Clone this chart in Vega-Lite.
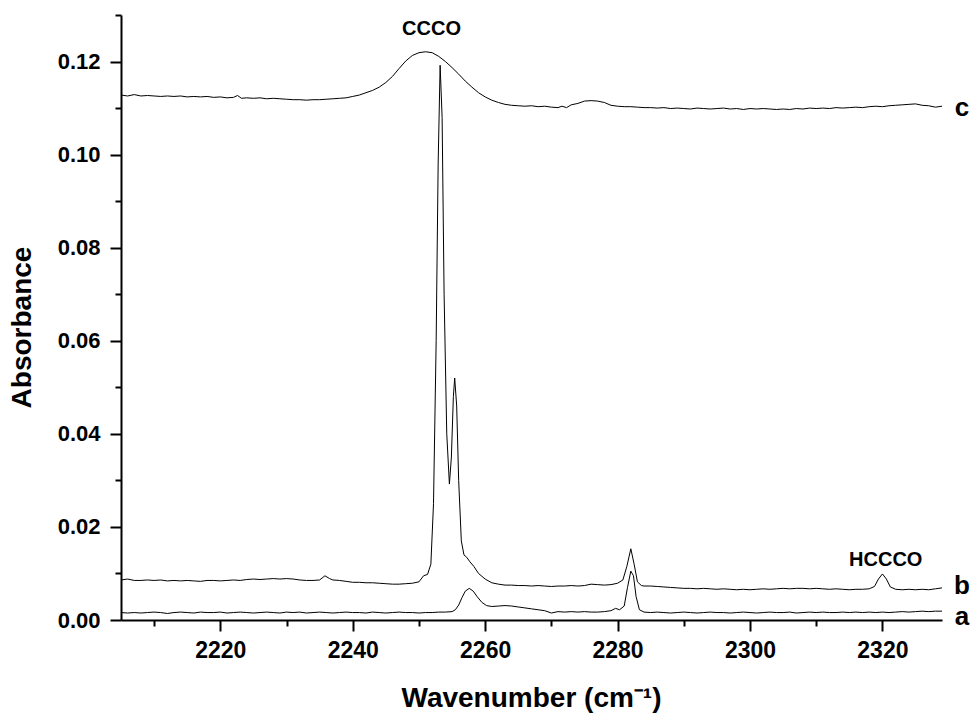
{
  "$schema": "https://vega.github.io/schema/vega-lite/v6.json",
  "width": 821,
  "height": 605,
  "autosize": {"type": "none"},
  "padding": {"left": 121, "top": 15, "right": 34, "bottom": 98},
  "background": "white",
  "config": {
    "view": {"stroke": null},
    "font": "Liberation Sans",
    "axis": {"grid": false, "domainColor": "black", "domainWidth": 2, "tickColor": "black", "tickWidth": 2, "labelColor": "black", "titleColor": "black", "labelFont": "Liberation Sans", "titleFont": "Liberation Sans", "labelFontWeight": "bold", "titleFontWeight": "bold", "labelOverlap": false, "labelFlush": false}
  },
  "datasets": {
    "spectra": [
      {"s":"a","x":2205,"y":0.0016},{"s":"a","x":2206,"y":0.0015},{"s":"a","x":2207,"y":0.0016},{"s":"a","x":2208,"y":0.0015},{"s":"a","x":2209,"y":0.0016},{"s":"a","x":2210,"y":0.0017},{"s":"a","x":2211,"y":0.0016},{"s":"a","x":2212,"y":0.0014},{"s":"a","x":2213,"y":0.0016},{"s":"a","x":2214,"y":0.0017},{"s":"a","x":2215,"y":0.0016},{"s":"a","x":2216,"y":0.0015},{"s":"a","x":2217,"y":0.0017},{"s":"a","x":2218,"y":0.0016},{"s":"a","x":2219,"y":0.0016},{"s":"a","x":2220,"y":0.0017},{"s":"a","x":2221,"y":0.0015},{"s":"a","x":2222,"y":0.0016},{"s":"a","x":2223,"y":0.0017},{"s":"a","x":2224,"y":0.0016},{"s":"a","x":2225,"y":0.0015},{"s":"a","x":2226,"y":0.0016},{"s":"a","x":2227,"y":0.0017},{"s":"a","x":2228,"y":0.0016},{"s":"a","x":2229,"y":0.0015},{"s":"a","x":2230,"y":0.0017},{"s":"a","x":2231,"y":0.0016},{"s":"a","x":2232,"y":0.0017},{"s":"a","x":2233,"y":0.0015},{"s":"a","x":2234,"y":0.0016},{"s":"a","x":2235,"y":0.0017},{"s":"a","x":2236,"y":0.0016},{"s":"a","x":2237,"y":0.0015},{"s":"a","x":2238,"y":0.0016},{"s":"a","x":2239,"y":0.0017},{"s":"a","x":2240,"y":0.0016},{"s":"a","x":2241,"y":0.0016},{"s":"a","x":2242,"y":0.0015},{"s":"a","x":2243,"y":0.0017},{"s":"a","x":2244,"y":0.0016},{"s":"a","x":2245,"y":0.0015},{"s":"a","x":2246,"y":0.0016},{"s":"a","x":2247,"y":0.0017},{"s":"a","x":2248,"y":0.0016},{"s":"a","x":2249,"y":0.0016},{"s":"a","x":2250,"y":0.0015},{"s":"a","x":2251,"y":0.0016},{"s":"a","x":2252,"y":0.0016},{"s":"a","x":2253,"y":0.0017},{"s":"a","x":2254,"y":0.0017},{"s":"a","x":2255,"y":0.0018},{"s":"a","x":2255.5,"y":0.0022},{"s":"a","x":2256,"y":0.0032},{"s":"a","x":2256.5,"y":0.0048},{"s":"a","x":2257,"y":0.0062},{"s":"a","x":2257.6,"y":0.0068},{"s":"a","x":2258.2,"y":0.0062},{"s":"a","x":2258.8,"y":0.0050},{"s":"a","x":2259.5,"y":0.0038},{"s":"a","x":2260.2,"y":0.0031},{"s":"a","x":2261,"y":0.0029},{"s":"a","x":2262,"y":0.0030},{"s":"a","x":2263,"y":0.0031},{"s":"a","x":2264,"y":0.0030},{"s":"a","x":2265,"y":0.0028},{"s":"a","x":2266,"y":0.0026},{"s":"a","x":2267,"y":0.0024},{"s":"a","x":2268,"y":0.0022},{"s":"a","x":2269,"y":0.0020},{"s":"a","x":2270,"y":0.0015},{"s":"a","x":2271,"y":0.0018},{"s":"a","x":2272,"y":0.0017},{"s":"a","x":2273,"y":0.0018},{"s":"a","x":2274,"y":0.0017},{"s":"a","x":2275,"y":0.0018},{"s":"a","x":2276,"y":0.0017},{"s":"a","x":2277,"y":0.0017},{"s":"a","x":2278,"y":0.0018},{"s":"a","x":2279,"y":0.0020},{"s":"a","x":2279.7,"y":0.0025},{"s":"a","x":2280.3,"y":0.0022},{"s":"a","x":2281,"y":0.0030},{"s":"a","x":2281.5,"y":0.0070},{"s":"a","x":2282,"y":0.0105},{"s":"a","x":2282.4,"y":0.0095},{"s":"a","x":2282.8,"y":0.0050},{"s":"a","x":2283.3,"y":0.0022},{"s":"a","x":2284,"y":0.0017},{"s":"a","x":2285,"y":0.0016},{"s":"a","x":2286,"y":0.0017},{"s":"a","x":2287,"y":0.0016},{"s":"a","x":2288,"y":0.0015},{"s":"a","x":2289,"y":0.0016},{"s":"a","x":2290,"y":0.0017},{"s":"a","x":2291,"y":0.0016},{"s":"a","x":2292,"y":0.0015},{"s":"a","x":2293,"y":0.0016},{"s":"a","x":2294,"y":0.0017},{"s":"a","x":2295,"y":0.0016},{"s":"a","x":2296,"y":0.0016},{"s":"a","x":2297,"y":0.0015},{"s":"a","x":2298,"y":0.0016},{"s":"a","x":2299,"y":0.0017},{"s":"a","x":2300,"y":0.0016},{"s":"a","x":2301,"y":0.0015},{"s":"a","x":2302,"y":0.0016},{"s":"a","x":2303,"y":0.0017},{"s":"a","x":2304,"y":0.0016},{"s":"a","x":2305,"y":0.0016},{"s":"a","x":2306,"y":0.0017},{"s":"a","x":2307,"y":0.0015},{"s":"a","x":2308,"y":0.0016},{"s":"a","x":2309,"y":0.0017},{"s":"a","x":2310,"y":0.0016},{"s":"a","x":2311,"y":0.0017},{"s":"a","x":2312,"y":0.0016},{"s":"a","x":2313,"y":0.0016},{"s":"a","x":2314,"y":0.0017},{"s":"a","x":2315,"y":0.0016},{"s":"a","x":2316,"y":0.0017},{"s":"a","x":2317,"y":0.0016},{"s":"a","x":2318,"y":0.0017},{"s":"a","x":2319,"y":0.0016},{"s":"a","x":2320,"y":0.0017},{"s":"a","x":2321,"y":0.0016},{"s":"a","x":2322,"y":0.0017},{"s":"a","x":2323,"y":0.0018},{"s":"a","x":2324,"y":0.0017},{"s":"a","x":2325,"y":0.0018},{"s":"a","x":2326,"y":0.0019},{"s":"a","x":2327,"y":0.0018},{"s":"a","x":2328,"y":0.0019},{"s":"a","x":2329,"y":0.0019},
      {"s":"b","x":2205,"y":0.0086},{"s":"b","x":2206,"y":0.0088},{"s":"b","x":2207,"y":0.0085},{"s":"b","x":2208,"y":0.0085},{"s":"b","x":2209,"y":0.0086},{"s":"b","x":2210,"y":0.0085},{"s":"b","x":2211,"y":0.0086},{"s":"b","x":2212,"y":0.0084},{"s":"b","x":2213,"y":0.0085},{"s":"b","x":2214,"y":0.0084},{"s":"b","x":2215,"y":0.0085},{"s":"b","x":2216,"y":0.0084},{"s":"b","x":2217,"y":0.0083},{"s":"b","x":2218,"y":0.0085},{"s":"b","x":2219,"y":0.0085},{"s":"b","x":2220,"y":0.0084},{"s":"b","x":2221,"y":0.0085},{"s":"b","x":2222,"y":0.0086},{"s":"b","x":2223,"y":0.0085},{"s":"b","x":2224,"y":0.0087},{"s":"b","x":2225,"y":0.0088},{"s":"b","x":2226,"y":0.0087},{"s":"b","x":2227,"y":0.0088},{"s":"b","x":2228,"y":0.0089},{"s":"b","x":2229,"y":0.0088},{"s":"b","x":2230,"y":0.0089},{"s":"b","x":2231,"y":0.0088},{"s":"b","x":2232,"y":0.0086},{"s":"b","x":2233,"y":0.0085},{"s":"b","x":2234,"y":0.0085},{"s":"b","x":2235,"y":0.0086},{"s":"b","x":2235.8,"y":0.0095},{"s":"b","x":2236.5,"y":0.0089},{"s":"b","x":2237,"y":0.0086},{"s":"b","x":2238,"y":0.0085},{"s":"b","x":2239,"y":0.0083},{"s":"b","x":2240,"y":0.0081},{"s":"b","x":2241,"y":0.0081},{"s":"b","x":2242,"y":0.0080},{"s":"b","x":2243,"y":0.0080},{"s":"b","x":2244,"y":0.0079},{"s":"b","x":2245,"y":0.0078},{"s":"b","x":2246,"y":0.0077},{"s":"b","x":2247,"y":0.0077},{"s":"b","x":2248,"y":0.0078},{"s":"b","x":2249,"y":0.0079},{"s":"b","x":2250,"y":0.0082},{"s":"b","x":2250.7,"y":0.0095},{"s":"b","x":2251.3,"y":0.0098},{"s":"b","x":2251.8,"y":0.0120},{"s":"b","x":2252.2,"y":0.0250},{"s":"b","x":2252.6,"y":0.0600},{"s":"b","x":2252.9,"y":0.0980},{"s":"b","x":2253.2,"y":0.1192},{"s":"b","x":2253.5,"y":0.1080},{"s":"b","x":2253.8,"y":0.0700},{"s":"b","x":2254.2,"y":0.0400},{"s":"b","x":2254.6,"y":0.0292},{"s":"b","x":2254.9,"y":0.0350},{"s":"b","x":2255.2,"y":0.0480},{"s":"b","x":2255.4,"y":0.0520},{"s":"b","x":2255.7,"y":0.0460},{"s":"b","x":2256.0,"y":0.0300},{"s":"b","x":2256.4,"y":0.0170},{"s":"b","x":2256.8,"y":0.0140},{"s":"b","x":2257.2,"y":0.0135},{"s":"b","x":2257.7,"y":0.0125},{"s":"b","x":2258.3,"y":0.0115},{"s":"b","x":2259,"y":0.0100},{"s":"b","x":2260,"y":0.0088},{"s":"b","x":2261,"y":0.0080},{"s":"b","x":2262,"y":0.0077},{"s":"b","x":2263,"y":0.0075},{"s":"b","x":2264,"y":0.0075},{"s":"b","x":2265,"y":0.0074},{"s":"b","x":2266,"y":0.0074},{"s":"b","x":2267,"y":0.0073},{"s":"b","x":2268,"y":0.0074},{"s":"b","x":2269,"y":0.0073},{"s":"b","x":2270,"y":0.0072},{"s":"b","x":2271,"y":0.0073},{"s":"b","x":2272,"y":0.0073},{"s":"b","x":2273,"y":0.0074},{"s":"b","x":2274,"y":0.0073},{"s":"b","x":2275,"y":0.0074},{"s":"b","x":2276,"y":0.0077},{"s":"b","x":2277,"y":0.0076},{"s":"b","x":2278,"y":0.0075},{"s":"b","x":2279,"y":0.0076},{"s":"b","x":2280,"y":0.0079},{"s":"b","x":2280.8,"y":0.0086},{"s":"b","x":2281.4,"y":0.0115},{"s":"b","x":2282,"y":0.0153},{"s":"b","x":2282.5,"y":0.0120},{"s":"b","x":2283,"y":0.0082},{"s":"b","x":2283.6,"y":0.0074},{"s":"b","x":2284,"y":0.0073},{"s":"b","x":2285,"y":0.0073},{"s":"b","x":2286,"y":0.0072},{"s":"b","x":2287,"y":0.0071},{"s":"b","x":2288,"y":0.0070},{"s":"b","x":2289,"y":0.0069},{"s":"b","x":2290,"y":0.0068},{"s":"b","x":2291,"y":0.0068},{"s":"b","x":2292,"y":0.0067},{"s":"b","x":2293,"y":0.0068},{"s":"b","x":2294,"y":0.0067},{"s":"b","x":2295,"y":0.0066},{"s":"b","x":2296,"y":0.0067},{"s":"b","x":2297,"y":0.0066},{"s":"b","x":2298,"y":0.0065},{"s":"b","x":2299,"y":0.0066},{"s":"b","x":2300,"y":0.0065},{"s":"b","x":2301,"y":0.0066},{"s":"b","x":2302,"y":0.0067},{"s":"b","x":2303,"y":0.0066},{"s":"b","x":2304,"y":0.0067},{"s":"b","x":2305,"y":0.0068},{"s":"b","x":2306,"y":0.0067},{"s":"b","x":2307,"y":0.0068},{"s":"b","x":2308,"y":0.0068},{"s":"b","x":2309,"y":0.0067},{"s":"b","x":2310,"y":0.0068},{"s":"b","x":2311,"y":0.0067},{"s":"b","x":2312,"y":0.0066},{"s":"b","x":2313,"y":0.0067},{"s":"b","x":2314,"y":0.0066},{"s":"b","x":2315,"y":0.0065},{"s":"b","x":2316,"y":0.0066},{"s":"b","x":2317,"y":0.0066},{"s":"b","x":2318,"y":0.0067},{"s":"b","x":2318.8,"y":0.0072},{"s":"b","x":2319.4,"y":0.0088},{"s":"b","x":2320,"y":0.0099},{"s":"b","x":2320.6,"y":0.0088},{"s":"b","x":2321.2,"y":0.0071},{"s":"b","x":2322,"y":0.0066},{"s":"b","x":2323,"y":0.0065},{"s":"b","x":2324,"y":0.0066},{"s":"b","x":2325,"y":0.0065},{"s":"b","x":2326,"y":0.0066},{"s":"b","x":2327,"y":0.0065},{"s":"b","x":2328,"y":0.0067},{"s":"b","x":2329,"y":0.0069},
      {"s":"c","x":2205,"y":0.1128},{"s":"c","x":2206,"y":0.1126},{"s":"c","x":2207,"y":0.1129},{"s":"c","x":2208,"y":0.1126},{"s":"c","x":2209,"y":0.1127},{"s":"c","x":2210,"y":0.1126},{"s":"c","x":2211,"y":0.1125},{"s":"c","x":2212,"y":0.1126},{"s":"c","x":2213,"y":0.1125},{"s":"c","x":2214,"y":0.1126},{"s":"c","x":2215,"y":0.1124},{"s":"c","x":2216,"y":0.1125},{"s":"c","x":2217,"y":0.1124},{"s":"c","x":2218,"y":0.1125},{"s":"c","x":2219,"y":0.1123},{"s":"c","x":2220,"y":0.1124},{"s":"c","x":2221,"y":0.1122},{"s":"c","x":2222,"y":0.1123},{"s":"c","x":2222.6,"y":0.1127},{"s":"c","x":2223.2,"y":0.1121},{"s":"c","x":2224,"y":0.1122},{"s":"c","x":2225,"y":0.1121},{"s":"c","x":2226,"y":0.1122},{"s":"c","x":2227,"y":0.1120},{"s":"c","x":2228,"y":0.1121},{"s":"c","x":2229,"y":0.1120},{"s":"c","x":2230,"y":0.1119},{"s":"c","x":2231,"y":0.1118},{"s":"c","x":2232,"y":0.1118},{"s":"c","x":2233,"y":0.1117},{"s":"c","x":2234,"y":0.1118},{"s":"c","x":2235,"y":0.1118},{"s":"c","x":2236,"y":0.1119},{"s":"c","x":2237,"y":0.1120},{"s":"c","x":2238,"y":0.1121},{"s":"c","x":2239,"y":0.1122},{"s":"c","x":2240,"y":0.1125},{"s":"c","x":2241,"y":0.1128},{"s":"c","x":2242,"y":0.1133},{"s":"c","x":2243,"y":0.1138},{"s":"c","x":2244,"y":0.1145},{"s":"c","x":2245,"y":0.1155},{"s":"c","x":2246,"y":0.1168},{"s":"c","x":2247,"y":0.1185},{"s":"c","x":2248,"y":0.1201},{"s":"c","x":2249,"y":0.1213},{"s":"c","x":2250,"y":0.1219},{"s":"c","x":2251,"y":0.1221},{"s":"c","x":2252,"y":0.1219},{"s":"c","x":2253,"y":0.1211},{"s":"c","x":2254,"y":0.1200},{"s":"c","x":2255,"y":0.1187},{"s":"c","x":2256,"y":0.1173},{"s":"c","x":2257,"y":0.1158},{"s":"c","x":2258,"y":0.1145},{"s":"c","x":2259,"y":0.1133},{"s":"c","x":2260,"y":0.1124},{"s":"c","x":2261,"y":0.1117},{"s":"c","x":2262,"y":0.1112},{"s":"c","x":2263,"y":0.1108},{"s":"c","x":2264,"y":0.1106},{"s":"c","x":2265,"y":0.1105},{"s":"c","x":2266,"y":0.1104},{"s":"c","x":2267,"y":0.1105},{"s":"c","x":2268,"y":0.1103},{"s":"c","x":2269,"y":0.1104},{"s":"c","x":2270,"y":0.1102},{"s":"c","x":2271,"y":0.1101},{"s":"c","x":2271.6,"y":0.1104},{"s":"c","x":2272.3,"y":0.1101},{"s":"c","x":2273,"y":0.1107},{"s":"c","x":2274,"y":0.1110},{"s":"c","x":2275,"y":0.1115},{"s":"c","x":2276,"y":0.1116},{"s":"c","x":2277,"y":0.1115},{"s":"c","x":2278,"y":0.1112},{"s":"c","x":2279,"y":0.1106},{"s":"c","x":2280,"y":0.1104},{"s":"c","x":2281,"y":0.1103},{"s":"c","x":2282,"y":0.1103},{"s":"c","x":2283,"y":0.1102},{"s":"c","x":2284,"y":0.1101},{"s":"c","x":2285,"y":0.1101},{"s":"c","x":2286,"y":0.1100},{"s":"c","x":2287,"y":0.1101},{"s":"c","x":2288,"y":0.1099},{"s":"c","x":2289,"y":0.1100},{"s":"c","x":2290,"y":0.1099},{"s":"c","x":2291,"y":0.1098},{"s":"c","x":2292,"y":0.1100},{"s":"c","x":2293,"y":0.1099},{"s":"c","x":2294,"y":0.1098},{"s":"c","x":2295,"y":0.1099},{"s":"c","x":2296,"y":0.1100},{"s":"c","x":2297,"y":0.1098},{"s":"c","x":2298,"y":0.1099},{"s":"c","x":2299,"y":0.1097},{"s":"c","x":2300,"y":0.1099},{"s":"c","x":2301,"y":0.1098},{"s":"c","x":2302,"y":0.1099},{"s":"c","x":2303,"y":0.1098},{"s":"c","x":2304,"y":0.1097},{"s":"c","x":2305,"y":0.1098},{"s":"c","x":2306,"y":0.1097},{"s":"c","x":2307,"y":0.1099},{"s":"c","x":2308,"y":0.1098},{"s":"c","x":2309,"y":0.1100},{"s":"c","x":2310,"y":0.1099},{"s":"c","x":2311,"y":0.1100},{"s":"c","x":2312,"y":0.1099},{"s":"c","x":2313,"y":0.1101},{"s":"c","x":2314,"y":0.1100},{"s":"c","x":2315,"y":0.1101},{"s":"c","x":2316,"y":0.1102},{"s":"c","x":2317,"y":0.1101},{"s":"c","x":2318,"y":0.1103},{"s":"c","x":2319,"y":0.1104},{"s":"c","x":2320,"y":0.1103},{"s":"c","x":2321,"y":0.1105},{"s":"c","x":2322,"y":0.1106},{"s":"c","x":2323,"y":0.1107},{"s":"c","x":2324,"y":0.1108},{"s":"c","x":2325,"y":0.1109},{"s":"c","x":2326,"y":0.1106},{"s":"c","x":2327,"y":0.1105},{"s":"c","x":2328,"y":0.1102},{"s":"c","x":2329,"y":0.1104}
    ],
    "peaks": [
      {"label":"CCCO","x":2251.9,"y":0.1269},
      {"label":"HCCCO","x":2320.5,"y":0.0129}
    ],
    "traces": [
      {"label":"a","x":2332,"y":0.0007},
      {"label":"b","x":2332,"y":0.0074},
      {"label":"c","x":2332,"y":0.1100}
    ]
  },
  "layer": [
    {
      "data": {"name": "spectra"},
      "mark": {"type": "line", "color": "black", "strokeWidth": 1, "clip": true},
      "encoding": {
        "x": {"field": "x", "type": "quantitative", "scale": {"domain": [2205, 2329], "nice": false, "zero": false},
          "axis": {"title": "Wavenumber (cm⁻¹)", "values": [2210,2220,2230,2240,2250,2260,2270,2280,2290,2300,2310,2320],
            "labelExpr": "datum.value % 20 === 0 ? '' + datum.value : ''",
            "tickSize": {"condition": {"test": "datum.value % 20 === 0", "value": 11}, "value": 6},
            "labelFontSize": 23, "labelPadding": 8, "titleFontSize": 28, "titleX": 410, "titleY": 78, "titleBaseline": "middle", "titleAlign": "center"}},
        "y": {"field": "y", "type": "quantitative", "scale": {"domain": [0, 0.13], "nice": false},
          "axis": {"title": "Absorbance", "values": [0,0.01,0.02,0.03,0.04,0.05,0.06,0.07,0.08,0.09,0.1,0.11,0.12,0.13],
            "labelExpr": "round(datum.value*100) % 2 === 0 ? format(datum.value, '.2f') : ''",
            "tickSize": {"condition": {"test": "round(datum.value*100) % 2 === 0", "value": 11}, "value": 6},
            "labelFontSize": 22, "labelPadding": 10, "titleFontSize": 28, "titleX": -99, "titleY": 312, "titleAngle": -90, "titleBaseline": "middle", "titleAlign": "center"}},
        "detail": {"field": "s", "type": "nominal"}
      }
    },
    {
      "data": {"name": "peaks"},
      "mark": {"type": "text", "font": "Liberation Sans", "fontWeight": "bold", "fontSize": 20, "color": "black", "align": "center", "baseline": "middle"},
      "encoding": {
        "x": {"field": "x", "type": "quantitative"},
        "y": {"field": "y", "type": "quantitative"},
        "text": {"field": "label"}
      }
    },
    {
      "data": {"name": "traces"},
      "mark": {"type": "text", "font": "Liberation Sans", "fontWeight": "bold", "fontSize": 26, "color": "black", "align": "center", "baseline": "middle"},
      "encoding": {
        "x": {"field": "x", "type": "quantitative"},
        "y": {"field": "y", "type": "quantitative"},
        "text": {"field": "label"}
      }
    }
  ]
}
